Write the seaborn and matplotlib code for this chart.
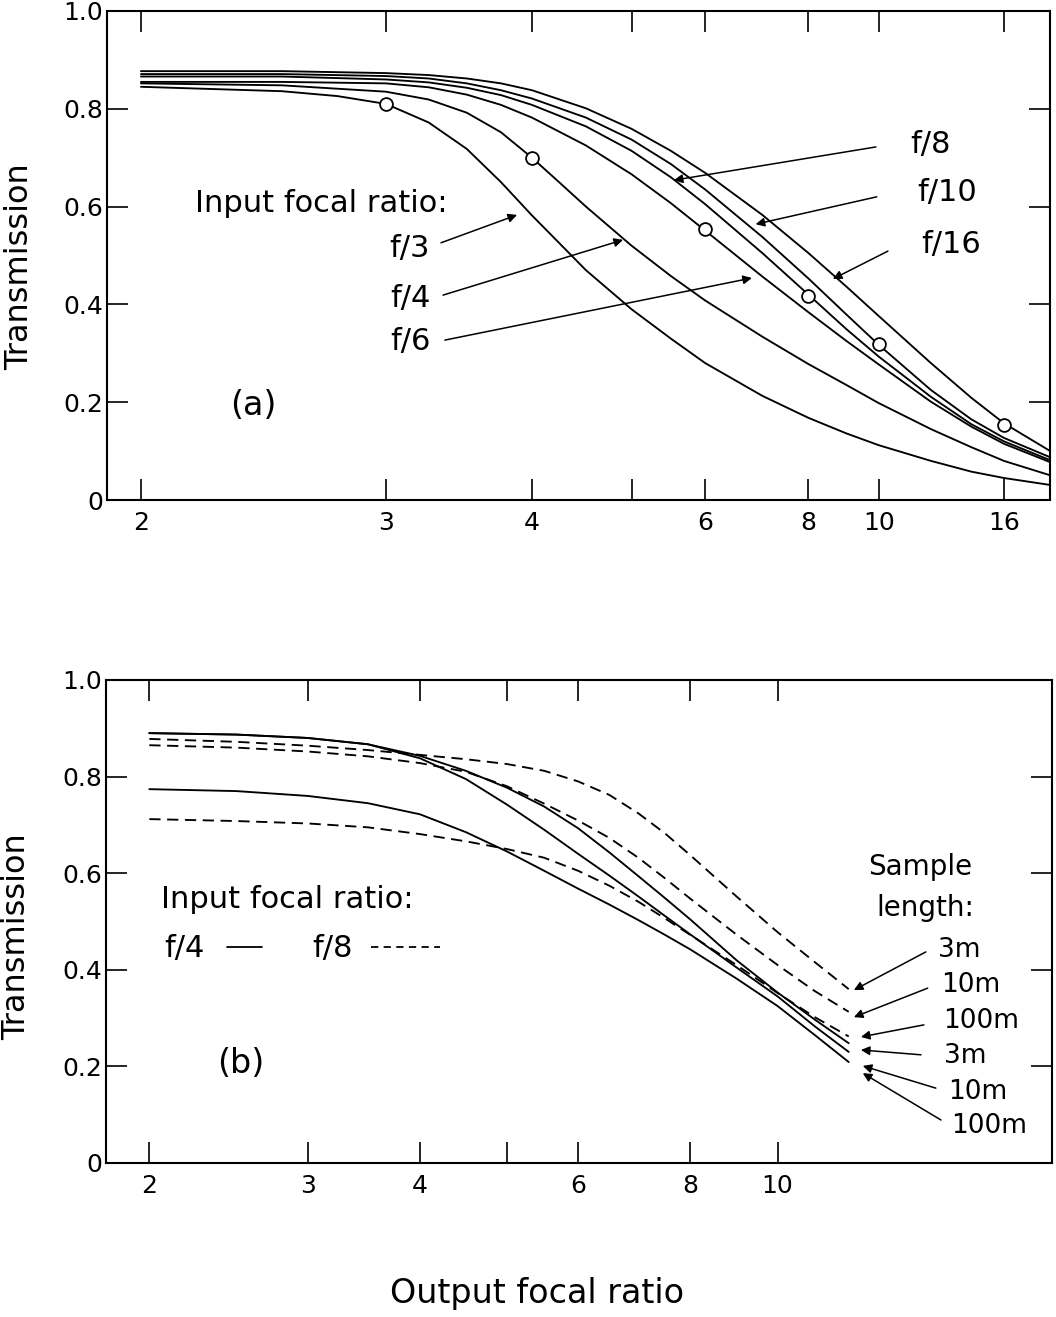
import numpy as np
import pandas as pd
import matplotlib
matplotlib.use("Agg")
import matplotlib.pyplot as plt
from matplotlib.ticker import NullLocator, FixedLocator, FixedFormatter
import seaborn as sns

# ---------------- data: panel (a) ----------------
f_grid_a = [2, 2.5, 3, 3.25, 3.5, 3.75, 4, 4.5, 5, 5.5, 6, 7, 8, 9, 10, 12, 14, 16, 19.6]
t_f16 = [0.877, 0.877, 0.873, 0.869, 0.862, 0.852, 0.838, 0.801, 0.759, 0.714, 0.669, 0.583, 0.505, 0.436, 0.376, 0.280, 0.209, 0.157, 0.101]
t_f10 = [0.871, 0.871, 0.867, 0.862, 0.852, 0.838, 0.821, 0.782, 0.737, 0.687, 0.635, 0.538, 0.453, 0.379, 0.317, 0.225, 0.165, 0.127, 0.088]
t_f8 = [0.866, 0.866, 0.860, 0.854, 0.843, 0.828, 0.808, 0.764, 0.714, 0.660, 0.605, 0.505, 0.420, 0.349, 0.293, 0.211, 0.155, 0.120, 0.082]
t_f6 = [0.855, 0.855, 0.852, 0.844, 0.829, 0.808, 0.782, 0.725, 0.666, 0.607, 0.551, 0.457, 0.384, 0.325, 0.277, 0.201, 0.150, 0.115, 0.078]
f_grid_f4 = [2, 2.5, 3, 3.25, 3.5, 3.75, 4, 4.25, 4.5, 5, 5.5, 6, 7, 8, 9, 10, 12, 14, 16, 19.6]
t_f4 = [0.852, 0.848, 0.835, 0.819, 0.792, 0.752, 0.700, 0.648, 0.600, 0.520, 0.458, 0.408, 0.334, 0.278, 0.235, 0.198, 0.145, 0.108, 0.080, 0.051]
f_grid_f3 = [2, 2.5, 2.75, 3, 3.25, 3.5, 3.75, 4, 4.5, 5, 5.5, 6, 7, 8, 9, 10, 12, 14, 16, 19.6]
t_f3 = [0.845, 0.836, 0.826, 0.810, 0.772, 0.718, 0.650, 0.582, 0.470, 0.390, 0.330, 0.280, 0.213, 0.168, 0.136, 0.112, 0.080, 0.058, 0.045, 0.031]

circle_f = [3, 4, 6, 8, 10, 16]
circle_t = [0.810, 0.700, 0.555, 0.418, 0.318, 0.153]

ticks_a = [2, 3, 4, 5, 6, 8, 10, 16]
ticklabels_a = ["2", "3", "4", "", "6", "8", "10", "16"]

# ---------------- data: panel (b) ----------------
f_grid_b = [2, 2.5, 3, 3.5, 4, 4.5, 5, 5.5, 6, 6.5, 7, 7.5, 8, 9, 10, 11, 12]
b_f8_3m = [0.878, 0.872, 0.864, 0.855, 0.845, 0.836, 0.826, 0.812, 0.790, 0.762, 0.724, 0.682, 0.637, 0.552, 0.478, 0.416, 0.360]
b_f8_10m = [0.865, 0.860, 0.852, 0.842, 0.828, 0.810, 0.780, 0.744, 0.709, 0.673, 0.632, 0.589, 0.547, 0.473, 0.410, 0.356, 0.313]
b_f8_100m = [0.712, 0.708, 0.703, 0.695, 0.681, 0.666, 0.650, 0.632, 0.605, 0.574, 0.541, 0.506, 0.472, 0.410, 0.352, 0.302, 0.262]
b_f4_3m = [0.890, 0.887, 0.880, 0.867, 0.843, 0.812, 0.777, 0.738, 0.693, 0.643, 0.594, 0.548, 0.504, 0.420, 0.353, 0.297, 0.248]
b_f4_10m = [0.890, 0.887, 0.880, 0.867, 0.838, 0.795, 0.742, 0.690, 0.640, 0.595, 0.552, 0.511, 0.473, 0.405, 0.345, 0.283, 0.230]
b_f4_100m = [0.774, 0.770, 0.760, 0.745, 0.722, 0.685, 0.645, 0.605, 0.568, 0.535, 0.503, 0.472, 0.442, 0.382, 0.325, 0.265, 0.209]

ticks_b = [2, 3, 4, 5, 6, 8, 10]
ticklabels_b = ["2", "3", "4", "", "6", "8", "10"]

yticks = [0, 0.2, 0.4, 0.6, 0.8, 1.0]
yticklabels = ["0", "0.2", "0.4", "0.6", "0.8", "1.0"]

# ---------------- style ----------------
sns.set_theme(style="ticks")
plt.rcParams["font.family"] = ["DejaVu Sans"]
plt.rcParams["axes.linewidth"] = 1.5
for key in ["text.color", "axes.labelcolor", "xtick.color", "ytick.color", "axes.edgecolor"]:
    plt.rcParams[key] = "black"

W, H = 1056, 1317
fig = plt.figure(figsize=(W / 100, H / 100), dpi=100)
fig.patch.set_facecolor("white")

ax1 = fig.add_axes([107 / W, 1 - 500 / H, 943 / W, 489 / H])
ax2 = fig.add_axes([106 / W, 1 - 1163 / H, 946 / W, 483 / H])


def fwd(x):
    x = np.asarray(x, dtype=float)
    return -np.power(np.clip(x, 1e-6, None), -0.5)


def inv(y):
    y = np.asarray(y, dtype=float)
    return np.power(np.clip(-y, 1e-6, None), -2.0)


ax1.set_xscale("function", functions=(fwd, inv))
ax2.set_xscale("log")

LW = 1.35
# panel (a) curves
curves_a = [
    ("f/16", f_grid_a, t_f16),
    ("f/10", f_grid_a, t_f10),
    ("f/8", f_grid_a, t_f8),
    ("f/6", f_grid_a, t_f6),
    ("f/4", f_grid_f4, t_f4),
    ("f/3", f_grid_f3, t_f3),
]
for name, fx, ty in curves_a:
    df = pd.DataFrame({"F": fx, "T": ty})
    sns.lineplot(data=df, x="F", y="T", ax=ax1, color="black", lw=LW,
                 estimator=None, errorbar=None, sort=True)

sns.scatterplot(x=circle_f, y=circle_t, ax=ax1, marker="o", s=85,
                facecolor="white", edgecolor="black", linewidth=1.3, zorder=5)

# panel (b) curves
curves_b = [
    (b_f8_3m, "dashed"), (b_f8_10m, "dashed"), (b_f8_100m, "dashed"),
    (b_f4_3m, "solid"), (b_f4_10m, "solid"), (b_f4_100m, "solid"),
]
for ty, ls in curves_b:
    df = pd.DataFrame({"F": f_grid_b, "T": ty})
    style = (0, (6, 3.5)) if ls == "dashed" else "-"
    sns.lineplot(data=df, x="F", y="T", ax=ax2, color="black", lw=LW,
                 linestyle=style, estimator=None, errorbar=None, sort=True)

# ---------------- axes formatting ----------------
for ax, xl, ticks, labels in [(ax1, (1.902, 19.65), ticks_a, ticklabels_a),
                              (ax2, (1.79, 20.2), ticks_b, ticklabels_b)]:
    ax.set_xlim(*xl)
    ax.set_ylim(0, 1.0)
    ax.xaxis.set_major_locator(FixedLocator(ticks))
    ax.xaxis.set_major_formatter(FixedFormatter(labels))
    ax.xaxis.set_minor_locator(NullLocator())
    ax.yaxis.set_major_locator(FixedLocator(yticks))
    ax.yaxis.set_major_formatter(FixedFormatter(yticklabels))
    ax.yaxis.set_minor_locator(NullLocator())
    ax.tick_params(axis="both", which="major", direction="in", length=15,
                   width=1.2, color="black", labelcolor="black", labelsize=18,
                   top=True, right=True, labeltop=False, labelright=False)
    ax.tick_params(axis="x", pad=8)
    ax.tick_params(axis="y", pad=3)
    for s in ax.spines.values():
        s.set_visible(True)
        s.set_color("black")
        s.set_linewidth(1.5)
    ax.set_xlabel("")
    ax.set_ylabel("Transmission", fontsize=23, color="black")
    ax.set_facecolor("white")

ax1.yaxis.set_label_coords(-0.076, 0.478)
ax2.yaxis.set_label_coords(-0.078, 0.468)
ax2.set_xlabel("Output focal ratio", fontsize=24, color="black")
ax2.xaxis.set_label_coords(0.456, -0.235)

# ---------------- annotations panel (a) ----------------
TXT = 22
arrow_kw = dict(arrowstyle="-|>", color="black", lw=1.1, mutation_scale=13,
                shrinkA=0, shrinkB=0)
ax1.text(2.172, 0.607, "Input focal ratio:", fontsize=TXT, ha="left", va="center")
ax1.text(2.383, 0.194, "(a)", fontsize=24, ha="center", va="center")

# (label, text pos, tail, tip)
ann_a = [
    ("f/3", (3.137, 0.515), (3.328, 0.526), (3.877, 0.583)),
    ("f/4", (3.137, 0.413), (3.341, 0.419), (4.90, 0.532)),
    ("f/6", (3.137, 0.325), (3.353, 0.327), (6.80, 0.454)),
    ("f/8", (11.13, 0.728), (9.90, 0.722), (5.54, 0.654)),
    ("f/10", (11.44, 0.628), (9.93, 0.620), (6.87, 0.564)),
    ("f/16", (11.60, 0.523), (10.31, 0.509), (8.62, 0.452)),
]
for lab, tpos, tail, tip in ann_a:
    left = tpos[0] < 5
    ax1.text(tpos[0], tpos[1], lab, fontsize=TXT, ha="center" if left else "left",
             va="center")
    ax1.annotate("", xy=tip, xytext=tail, arrowprops=arrow_kw)

# ---------------- annotations panel (b) ----------------
ax2.text(2.063, 0.545, "Input focal ratio:", fontsize=TXT, ha="left", va="center")
ax2.text(2.078, 0.445, "f/4", fontsize=TXT, ha="left", va="center")
ax2.plot([2.44, 2.67], [0.448, 0.448], color="black", lw=1.3)
ax2.text(3.04, 0.445, "f/8", fontsize=TXT, ha="left", va="center")
ax2.plot([3.53, 4.21], [0.448, 0.448], color="black", lw=1.3, linestyle=(0, (4, 3)))
ax2.text(2.53, 0.207, "(b)", fontsize=24, ha="center", va="center")
ax2.text(14.4, 0.613, "Sample", fontsize=20, ha="center", va="center")
ax2.text(14.6, 0.528, "length:", fontsize=20, ha="center", va="center")

ann_b = [
    ("3m", (15.1, 0.440), (14.62, 0.437), (12.16, 0.358)),
    ("10m", (15.2, 0.368), (14.69, 0.362), (12.16, 0.302)),
    ("100m", (15.3, 0.294), (14.55, 0.286), (12.38, 0.261)),
    ("3m", (15.3, 0.222), (14.44, 0.224), (12.38, 0.234)),
    ("10m", (15.5, 0.148), (15.0, 0.155), (12.44, 0.201)),
    ("100m", (15.6, 0.076), (15.2, 0.089), (12.44, 0.186)),
]
for lab, tpos, tail, tip in ann_b:
    ax2.text(tpos[0], tpos[1], lab, fontsize=19, ha="left", va="center")
    ax2.annotate("", xy=tip, xytext=tail, arrowprops=arrow_kw)

fig.savefig("out.png", dpi=100, facecolor="white")
